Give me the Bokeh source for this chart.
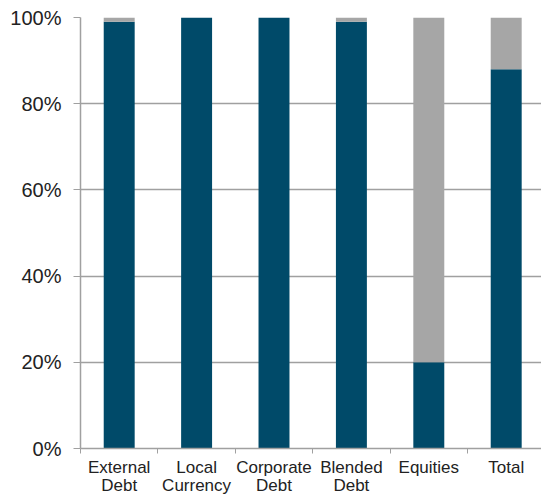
from bokeh.plotting import figure
from bokeh.models import Range1d, FixedTicker, ColumnDataSource
from bokeh.embed import file_html
from bokeh.resources import INLINE

# Share of each strategy, split into two components (percent)
categories = ["External\nDebt", "Local\nCurrency", "Corporate\nDebt",
              "Blended\nDebt", "Equities", "Total"]
primary_share = [99, 100, 100, 99, 20, 88]
other_share = [1, 0, 0, 1, 80, 12]
y_ticks = [0, 20, 40, 60, 80, 100]
y_tick_labels = ["0%", "20%", "40%", "60%", "80%", "100%"]

DARK = "#004A69"
GREY = "#A6A6A6"
AXIS = "#A0A0A0"
TEXT = "#222222"
FONT = "Liberation Sans"

centers = [i + 0.5 for i in range(len(categories))]
source = ColumnDataSource(dict(x=centers, primary=primary_share, other=other_share))

p = figure(width=541, height=497, output_backend="svg", toolbar_location=None,
           x_range=Range1d(0, 5.956), y_range=Range1d(0, 100),
           min_border_left=80, min_border_right=0, min_border_top=17,
           min_border_bottom=30)

p.vbar_stack(["primary", "other"], x="x", width=0.4, source=source,
             color=[DARK, GREY], line_color=None)

p.outline_line_color = None
p.background_fill_color = "white"
p.border_fill_color = "white"

# x axis: labels at category centres, short ticks at category boundaries
p.xaxis.ticker = FixedTicker(ticks=centers, minor_ticks=list(range(len(categories) + 1)))
p.xaxis.major_label_overrides = {c: lab for c, lab in zip(centers, categories)}
p.xaxis.major_tick_out = 0
p.xaxis.major_tick_in = 0
p.xaxis.minor_tick_out = 5
p.xaxis.minor_tick_in = 0
p.xaxis.minor_tick_line_color = AXIS
p.xaxis.axis_line_color = AXIS
p.xaxis.axis_line_width = 1.5
p.xaxis.major_label_text_font = FONT
p.xaxis.major_label_text_font_size = "17px"
p.xaxis.major_label_text_color = TEXT
p.xaxis.major_label_text_line_height = 0.95
p.xaxis.major_label_standoff = 4
p.xgrid.grid_line_color = None

# y axis: percentage ticks with gridlines behind the bars
p.yaxis.ticker = FixedTicker(ticks=y_ticks)
p.yaxis.major_label_overrides = {t: lab for t, lab in zip(y_ticks, y_tick_labels)}
p.yaxis.major_tick_out = 7
p.yaxis.major_tick_in = 0
p.yaxis.minor_tick_line_color = None
p.yaxis.major_tick_line_color = AXIS
p.yaxis.axis_line_color = AXIS
p.yaxis.axis_line_width = 1.5
p.yaxis.major_label_text_font = FONT
p.yaxis.major_label_text_font_size = "20px"
p.yaxis.major_label_text_color = TEXT
p.yaxis.major_label_standoff = 12
p.ygrid.grid_line_color = AXIS
p.ygrid.grid_line_width = 1.5

open("out.html", "w").write(file_html(p, INLINE))
